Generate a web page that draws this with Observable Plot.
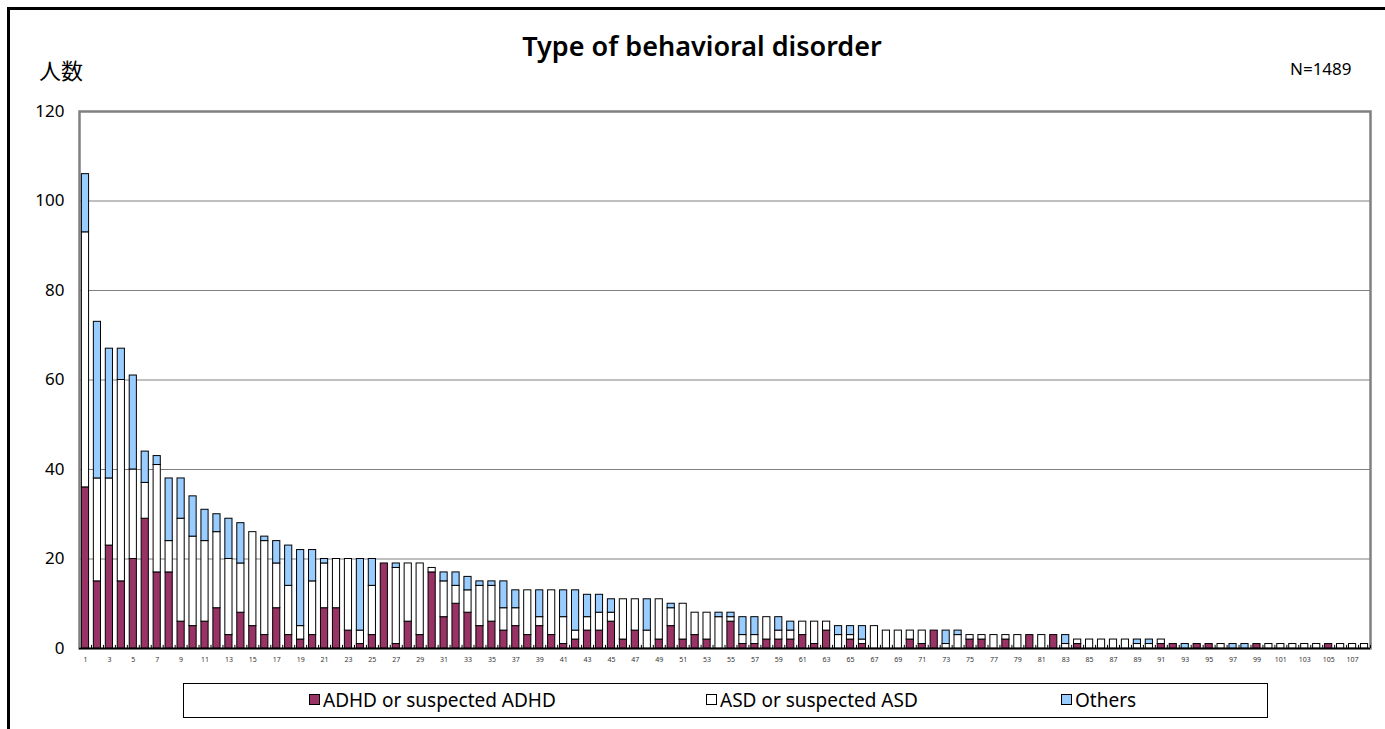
<!DOCTYPE html>
<html>
<head>
<meta charset="utf-8">
<script src="https://cdn.jsdelivr.net/npm/d3@7"></script>
<script src="https://cdn.jsdelivr.net/npm/@observablehq/plot@0.6"></script>
<style>
  html, body { margin: 0; padding: 0; background: #fff; }
  body { width: 1385px; height: 729px; position: relative; overflow: hidden;
         font-family: "Noto Sans", "Noto Sans CJK JP", sans-serif; color: #000; }
  #outer { position: absolute; left: 7px; top: 7px; width: 1500px; height: 800px;
           border-left: 3px solid #000; border-top: 3px solid #000; box-sizing: border-box; }
  #chart { position: absolute; left: 0; top: 0; }
  #title { position: absolute; left: 0; width: 1404px; top: 29px; text-align: center;
           font-size: 27px; font-weight: 600; line-height: 34px; }
  #ylab { position: absolute; left: 39px; top: 55px; font-family: "Noto Sans CJK JP", sans-serif;
          font-size: 22px; line-height: 28px; }
  #nlab { position: absolute; left: 1290px; top: 58px; font-size: 17px; line-height: 22px; }
  #legend { position: absolute; left: 183px; top: 683px; width: 1085px; height: 35px;
            border: 1px solid #000; box-sizing: border-box; background: #fff; }
  .item { position: absolute; top: 4px; font-size: 19px; line-height: 24px; white-space: nowrap; }
  .sw { display: inline-block; width: 9px; height: 9px; border: 1px solid #000;
        vertical-align: middle; margin-right: 3px; position: relative; top: -2px; }
</style>
</head>
<body>
<div id="outer"></div>
<div id="chart"></div>
<div id="title">Type of behavioral disorder</div>
<div id="ylab">人数</div>
<div id="nlab">N=1489</div>
<div id="legend"></div>
<script>
// ---- data ----
const categories = d3.range(1, 109);
const seriesNames = ["ADHD or suspected ADHD", "ASD or suspected ASD", "Others"];
const seriesColors = ["#993366", "#ffffff", "#99ccff"];
const adhd = [
  36,15,23,15,20,29,17,17,6,5,
  6,9,3,8,5,3,9,3,2,3,
  9,9,4,1,3,19,1,6,3,17,
  7,10,8,5,6,4,5,3,5,3,
  1,2,4,4,6,2,4,0,2,5,
  2,3,2,0,6,1,1,2,2,2,
  3,1,4,0,2,1,0,0,0,2,
  1,4,0,0,2,2,0,2,0,3,
  0,3,0,1,0,0,0,0,0,0,
  1,1,0,1,1,0,0,0,1,0,
  0,0,0,0,1,0,0,0];
const asd = [
  57,23,15,45,20,8,24,7,23,20,
  18,17,17,11,21,21,10,11,3,12,
  10,11,16,3,11,0,17,13,16,1,
  8,4,5,9,8,5,4,10,2,10,
  6,2,3,4,2,9,7,4,9,4,
  8,5,6,7,1,2,2,5,2,2,
  3,5,2,3,1,1,5,4,4,2,
  3,0,1,3,1,1,3,1,3,0,
  3,0,1,1,2,2,2,2,1,1,
  1,0,0,0,0,1,0,0,0,1,
  1,1,1,1,0,1,1,1];
const others = [
  13,35,29,7,21,7,2,14,9,9,
  7,4,9,9,0,1,5,9,17,7,
  1,0,0,16,6,0,1,0,0,0,
  2,3,3,1,1,6,4,0,6,0,
  6,9,5,4,3,0,0,7,0,1,
  0,0,0,1,1,4,4,0,3,2,
  0,0,0,2,2,3,0,0,0,0,
  0,0,3,1,0,0,0,0,0,0,
  0,0,2,0,0,0,0,0,1,1,
  0,0,1,0,0,0,1,1,0,0,
  0,0,0,0,0,0,0,0];
const yTicks = [0, 20, 40, 60, 80, 100, 120];
const xTickLabels = categories.filter(d => d % 2 === 1);

// ---- long table ----
const seriesValues = [adhd, asd, others];
const rows = [];
categories.forEach((c, i) => {
  seriesNames.forEach((s, j) => {
    rows.push({cat: c, series: s, value: seriesValues[j][i]});
  });
});
const nonzero = rows.filter(d => d.value > 0);

const chart = Plot.plot({
  width: 1385,
  height: 680,
  marginTop: 111,
  marginBottom: 32,
  marginLeft: 79,
  marginRight: 15,
  style: {fontFamily: '"Noto Sans", sans-serif', background: "transparent", overflow: "visible"},
  x: {type: "band", domain: categories, paddingInner: 0.4, paddingOuter: 0.2, label: null},
  y: {domain: [0, 120], label: null},
  color: {domain: seriesNames, range: seriesColors},
  marks: [
    Plot.gridY(yTicks.filter(d => d > 0 && d < 120), {stroke: "#808080", strokeOpacity: 1, strokeWidth: 1}),
    Plot.frame({stroke: "#808080", strokeWidth: 2.5}),
    Plot.barY(nonzero, Plot.stackY({order: seriesNames}, {
      x: "cat", y: "value", z: "series", fill: "series",
      stroke: "#000", strokeWidth: 1
    })),
    Plot.ruleY([0], {stroke: "#000", strokeWidth: 1.5}),
    Plot.ruleX(categories, {x: d => d, dx: 6, y1: 0, y2: 0.7, stroke: "#000", strokeWidth: 1}),
    Plot.axisY(yTicks, {tickSize: 0, tickPadding: 15, fontSize: 17, label: null}),
    Plot.axisX(xTickLabels, {tickSize: 0, tickPadding: 9, fontSize: 7, fill: "#333", label: null})
  ]
});
document.getElementById("chart").appendChild(chart);

// ---- legend ----
const legend = document.getElementById("legend");
const legendLeft = [125, 522, 877];
seriesNames.forEach((s, i) => {
  const it = document.createElement("div");
  it.className = "item";
  it.style.left = legendLeft[i] + "px";
  const sw = document.createElement("span");
  sw.className = "sw";
  sw.style.background = seriesColors[i];
  it.appendChild(sw);
  it.appendChild(document.createTextNode(s));
  legend.appendChild(it);
});
</script>
</body>
</html>
